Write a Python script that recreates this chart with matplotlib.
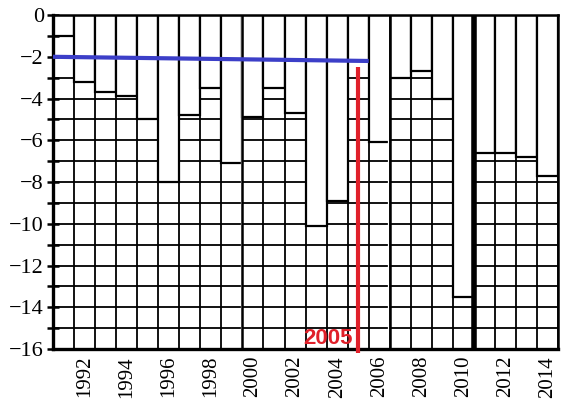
import matplotlib
matplotlib.use("Agg")
import matplotlib.pyplot as plt
import numpy as np

# данные
years = list(range(1991, 2015))
values = [-1.0, -3.2, -3.7, -3.9, -5.0, -8.0, -4.8, -3.5, -7.1,
          -4.9, -3.5, -4.7, -10.1, -8.9, -2.2, -6.1,
          -3.0, -2.7, -4.0, -13.5,
          -6.6, -6.6, -6.8, -7.7]
year_labels = [str(y) for y in range(1992, 2015, 2)]
y_major = list(range(-16, 1, 2))
y_minor = list(range(-15, 0, 2))

# линии поверх
blue_x = [1990.5, 2005.5]
blue_y = [-2.0, -2.2]
red_year = 2005
red_top = -2.5

fig = plt.figure(figsize=(5.76, 4.18), dpi=100)
ax = fig.add_axes([0.092, 0.165, 0.877, 0.799])

# сетка
for yy in range(-16, 1):
    ax.axhline(yy, color="black", lw=1.3, zorder=1)
for xx in np.arange(1990.5, 2015, 1.0):
    ax.axvline(xx, color="black", lw=1.3, zorder=1)

# столбцы
ax.bar(years, values, width=1.0, color="white", edgecolor="black", lw=1.6, zorder=2)

# разделители панелей
for xx in [1999.5, 2006.5]:
    ax.axvline(xx - 0.08, color="white", lw=0.9, zorder=3)
    ax.axvline(xx, color="black", lw=1.8, zorder=3)
ax.axvline(2010.5, color="black", lw=4.0, zorder=3)

# синяя и красная линии
ax.plot(blue_x, blue_y, color="#3c3fc8", lw=3.0, zorder=5, clip_on=False,
        solid_capstyle="butt")
ax.plot([red_year, red_year], [red_top, -16.2], color="#e0202a", lw=3.0,
        zorder=5, clip_on=False, solid_capstyle="butt")
ax.text(red_year - 0.25, -15.75, str(red_year), color="#e0202a",
        fontsize=16, fontweight="bold", family="Liberation Sans",
        ha="right", va="baseline", zorder=6)

ax.set_xlim(1990.5, 2014.5)
ax.set_ylim(-16, 0)

ax.set_yticks(y_major)
ax.set_yticklabels([str(v).replace("-", "\u2212") for v in y_major],
                   family="Liberation Serif", fontsize=16)
ax.set_yticks(y_minor, minor=True)
ax.tick_params(axis="y", which="both", direction="inout", length=9,
               width=1.8, pad=2)

ax.set_xticks(range(1992, 2015, 2))
ax.set_xticklabels(year_labels, rotation=90, family="Liberation Serif",
                   fontsize=15)
ax.tick_params(axis="x", length=0, pad=5)

for side in ["left", "bottom"]:
    ax.spines[side].set_linewidth(2.4)
for side in ["top", "right"]:
    ax.spines[side].set_linewidth(1.8)
for s in ax.spines.values():
    s.set_zorder(4)

fig.savefig("out.png", dpi=100)
